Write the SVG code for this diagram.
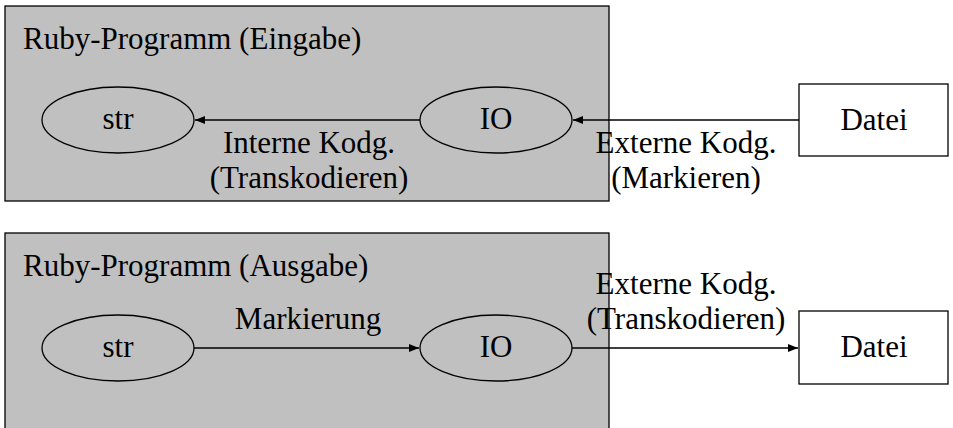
<svg xmlns="http://www.w3.org/2000/svg" width="953" height="428" viewBox="0 0 953 428">
<defs>
<style>
text{font-family:"Liberation Serif","DejaVu Serif",serif;font-size:31px;fill:#000}
.c{text-anchor:middle}
.cl{fill:#c0c0c0;stroke:#000;stroke-width:1.3}
.n{fill:none;stroke:#000;stroke-width:1.3}
.b{fill:#fff;stroke:#000;stroke-width:1.3}
.e{fill:none;stroke:#000;stroke-width:1.3}
</style>
<marker id="a" viewBox="0 0 10 8" refX="10" refY="4" markerWidth="10" markerHeight="8" markerUnits="userSpaceOnUse" orient="auto">
<path d="M0,0 L10,4 L0,8 Z" fill="#000"/>
</marker>
</defs>
<g id="cluster_in">
<rect class="cl" x="5" y="6" width="604" height="195"/>
<text x="23" y="49">Ruby-Programm (Eingabe)</text>
</g>
<g id="cluster_out">
<rect class="cl" x="5" y="233" width="604" height="200"/>
<text x="23" y="276">Ruby-Programm (Ausgabe)</text>
</g>
<g id="str_in"><ellipse class="n" cx="118" cy="120" rx="76" ry="33"/><text class="c" x="118" y="129">str</text></g>
<g id="io_in"><ellipse class="n" cx="496" cy="120" rx="76" ry="33"/><text class="c" x="496" y="129">IO</text></g>
<g id="datei_in"><rect class="b" x="799" y="84" width="149" height="72"/><text class="c" x="874" y="130">Datei</text></g>
<g id="str_out"><ellipse class="n" cx="118" cy="348" rx="76" ry="33"/><text class="c" x="118" y="357">str</text></g>
<g id="io_out"><ellipse class="n" cx="496" cy="348" rx="76" ry="33"/><text class="c" x="496" y="357">IO</text></g>
<g id="datei_out"><rect class="b" x="799" y="311" width="149" height="73"/><text class="c" x="874" y="357">Datei</text></g>
<g id="edges">
<line class="e" x1="420" y1="120" x2="195" y2="120" marker-end="url(#a)"/>
<line class="e" x1="799" y1="120" x2="573" y2="120" marker-end="url(#a)"/>
<line class="e" x1="194" y1="348" x2="419" y2="348" marker-end="url(#a)"/>
<line class="e" x1="572" y1="348" x2="798" y2="348" marker-end="url(#a)"/>
<text class="c" x="309" y="153">Interne Kodg.</text>
<text class="c" x="309" y="188">(Transkodieren)</text>
<text class="c" x="686" y="153">Externe Kodg.</text>
<text class="c" x="686" y="188">(Markieren)</text>
<text class="c" x="308" y="329">Markierung</text>
<text class="c" x="686" y="294">Externe Kodg.</text>
<text class="c" x="686" y="329">(Transkodieren)</text>
</g>
</svg>
